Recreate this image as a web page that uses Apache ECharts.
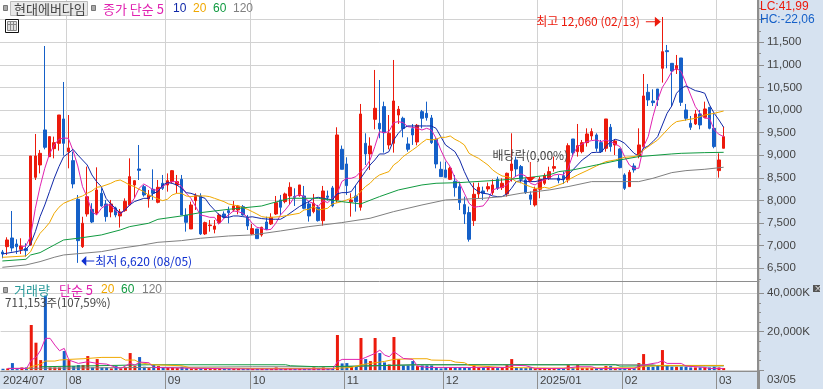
<!DOCTYPE html>
<html>
<head>
<meta charset="utf-8">
<style>
  html, body { margin: 0; padding: 0; background: #fff; }
  #chart { width: 823px; height: 389px; }
</style>
</head>
<body>
<div id="chart"></div>
<script src="https://cdn.jsdelivr.net/npm/echarts@6/dist/echarts.min.js"></script>
<script>
const monthStarts = [0, 14, 35, 53, 73, 94, 114, 132, 152];
const monthLabels = ['2024/07', '08', '09', '10', '11', '12', '2025/01', '02', '03'];
const slotCount = 161;

const priceLabels = [6500, 7000, 7500, 8000, 8500, 9000, 9500, 10000, 10500, 11000, 11500];
const priceLines = [6500, 7000, 7500, 8000, 8500, 9000, 9500, 10000, 10500, 11000, 11500, 12000];
const priceMinor = [6250, 6750, 7250, 7750, 8250, 8750, 9250, 9750, 10250, 10750, 11250, 11750, 12250];
const volumeLabels = [20000, 40000];
const volumeMinor = [5000, 10000, 15000, 25000, 30000, 35000];

// open, close, low, high
const ohlc = [
  [6861,6817,6721,6906],[6979,7127,6795,7186],[7171,6950,6869,7768],[7038,6979,6817,7142],[6920,6994,6817,7164],
  [6935,6891,6758,7053],[7016,8985,7000,8985],[8513,8985,8454,9472],[8786,9044,8600,9118],[9561,9177,9132,11418],
  [8970,9413,8970,9413],[9147,9280,8933,9413],[9265,9892,9103,9892],[9804,9265,8992,10622],[9081,9162,8712,9892],
  [8882,8366,8270,9081],[8026,7112,6620,8122],[6979,7496,6950,7640],[7702,8085,7643,8749],[7805,7525,7500,7940],
  [7717,8233,7680,8734],[8159,7879,7860,8270],[7923,7643,7532,8012],[7746,7923,7628,8012],[7835,7680,7628,7864],
  [7658,7746,7400,7812],[7776,7982,7750,8048],[7901,8528,7880,8933],[8343,8439,8048,8450],[8697,8668,8454,9228],
  [8307,8122,8085,8343],[8034,8122,7842,8233],[8248,8159,8012,8690],[7960,8292,7938,8454],[8380,8270,8233,8565],
  [8343,8439,8196,8600],[8417,8660,8380,8675],[8343,8417,8159,8565],[8469,7680,7680,8565],[7672,7518,7311,7827],
  [7370,7901,7370,7975],[7997,8107,7790,8159],[8100,7260,7238,8159],[7260,7510,7238,7532],[7444,7458,7311,7569],
  [7363,7436,7274,7569],[7510,7680,7473,7717],[7702,7628,7600,7760],[7776,7731,7495,7864],[7790,7879,7754,7990],
  [7790,7879,7695,7901],[7864,7680,7665,7901],[7620,7437,7348,7680],[7260,7378,7238,7480],[7370,7156,7156,7370],
  [7238,7407,7200,7420],[7525,7363,7348,7643],[7480,7628,7458,7717],[7702,7953,7680,8100],[8012,7850,7680,8123],
  [7975,8145,7938,8174],[8100,8292,7900,8403],[8086,8071,7879,8270],[8108,8344,8084,8344],[8100,7828,7806,8322],
  [7924,7658,7533,7975],[7754,7938,7717,8145],[7850,7555,7533,7902],[7555,8211,7444,8322],[8100,8071,7997,8219],
  [8278,7880,7850,8322],[8012,9450,7953,9620],[9133,8690,8690,9216],[8808,8329,8123,8956],[7968,8012,7643,8160],
  [8100,7975,7754,8344],[7850,9914,7776,10136],[9265,9030,8786,9487],[9030,9207,8676,9398],[9796,10040,9575,10888],
  [9708,9583,9376,10666],[10077,9501,9059,10187],[9229,9487,9133,9892],[9266,10202,9059,11109],[9892,10018,9693,10091],
  [9819,9590,9398,9855],[9251,9133,9081,9398],[9590,9450,9229,9693],[9295,9664,9221,9693],[9966,9819,9597,10003],
  [9929,9833,9767,10187],[9826,9280,9251,9892],[9354,8808,8712,9376],[8690,8528,8528,8860],[8676,8513,8513,8860],
  [8469,8713,8455,8750],[8425,8285,8086,8565],[8307,7953,7791,8418],[7909,7702,7481,8086],[7732,7142,7090,7865],
  [7555,8137,7437,8395],[8145,8292,8042,8395],[8211,8160,8012,8307],[8256,8307,8197,8395],[8174,8344,8123,8469],
  [8469,8270,8233,8528],[8285,8381,8233,8491],[8145,8602,8086,8617],[8661,8808,8418,9487],[8897,8698,8528,8971],
  [8750,8469,8381,8786],[8455,8174,8145,8491],[8123,8027,7901,8200],[7901,8248,7865,8307],[8248,8469,8049,8528],
  [8381,8550,8344,8602],[8491,8639,8455,8748],[8713,8750,8639,8971],[8491,8447,8381,8565],[8550,8470,8366,8639],
  [8455,9214,8396,9266],[9361,9059,8971,9361],[9081,9214,8971,9693],[9081,9280,9044,9339],[9280,9472,9192,9597],
  [9428,9524,9339,9597],[9450,9155,9081,9487],[9280,9081,9059,9339],[9155,9804,9081,9804],[9620,9192,9081,9693],
  [9229,9317,9007,9361],[9140,8727,8712,9155],[8565,8270,8233,8602],[8307,8624,8307,8676],[8764,8676,8617,8823],
  [8985,9229,8934,9597],[9192,10313,9155,10799],[10394,10224,10091,10578],[10202,10165,10091,10460],[10467,10224,10091,10467],
  [10925,11293,10608,12060],[11315,11293,10925,11441],[11035,10865,10091,11035],[10902,10984,10799,11220],[11153,10172,10091,11153],
  [10003,9819,9767,10136],[9708,9620,9561,9870],[9693,9914,9671,10003],[9914,9671,9575,10003],[9840,10025,9819,10187],
  [10062,9597,9575,10062],[9597,9192,9155,9929],[8661,8897,8506,9044],[9155,9413,9155,9634]
];

const volume = [
  700,870,3654,500,1392,1392,23490,14268,5220,38800,
  1392,1392,1392,9918,5220,2088,2610,2610,7308,1392,
  5742,1392,1392,870,2088,870,1392,8874,2088,6786,
  1740,1044,2610,2088,1392,1392,1392,1044,1740,1044,
  870,870,1044,870,870,1044,870,870,870,870,
  870,870,1044,870,870,1044,870,870,1392,870,
  870,1044,870,870,870,870,1392,870,1392,870,
  870,18270,3480,3654,1740,1740,16704,5742,4698,16704,
  8874,4002,2958,17226,5742,2436,2436,4698,2088,2436,
  2436,2436,1392,870,1392,1392,1392,1392,1392,1392,
  2436,1392,1392,2088,1392,1044,1392,2610,5742,1392,
  1044,1044,1392,870,1044,1044,870,870,870,870,
  2610,1044,2610,1044,1044,1044,1044,1044,2088,2088,
  1044,1044,1044,1044,1044,3654,8352,1740,1740,2088,
  10440,2088,1740,1740,1740,1740,1392,1392,1392,1392,
  1392,1740,1392,1044
];

// moving averages as [bar index, value]
const ma5 = [[4,6979],[5,6994],[6,7215],[7,7827],[8,8307],[9,8712],[10,9029],[11,9228],[12,9354],[13,9383],[14,9376],[15,9103],[16,8764],[17,8307],[18,8071],[19,7754],[20,7680],[21,7827],[22,7901],[23,7901],[24,7776],[25,7702],[26,7790],[27,7901],[28,8048],[29,8270],[30,8366],[31,8307],[32,8233],[33,8233],[34,8307],[35,8380],[36,8417],[37,8417],[38,8307],[39,8159],[40,8048],[41,7864],[42,7680],[43,7658],[44,7628],[45,7628],[46,7481],[47,7606],[48,7680],[49,7768],[50,7754],[51,7717],[52,7628],[53,7496],[54,7407],[55,7385],[56,7348],[57,7363],[58,7496],[59,7680],[60,7791],[61,7924],[62,8086],[63,8130],[64,8086],[65,7975],[66,7938],[67,7865],[68,7997],[69,7953],[70,8049],[71,8145],[72,8418],[73,8491],[74,8491],[75,8528],[76,8639],[77,8735],[78,8897],[79,9192],[80,9524],[81,9501],[82,9524],[83,9723],[84,9745],[85,9723],[86,9634],[87,9620],[88,9597],[89,9560],[90,9597],[91,9560],[92,9376],[93,9118],[94,8897],[95,8750],[96,8491],[97,8381],[98,8160],[99,7938],[100,7850],[101,7865],[102,7880],[103,8012],[104,8233],[105,8270],[106,8292],[107,8344],[108,8469],[109,8543],[110,8587],[111,8543],[112,8381],[113,8344],[114,8418],[115,8455],[116,8500],[117,8565],[118,8580],[119,8565],[120,8713],[121,9007],[122,9192],[123,9251],[124,9303],[125,9325],[126,9339],[127,9303],[128,9339],[129,9303],[130,9251],[131,9192],[132,8971],[133,8786],[134,8713],[135,8713],[136,9192],[137,9413],[138,9856],[139,10224],[140,10504],[141,10666],[142,10851],[143,10925],[144,10851],[145,10593],[146,10335],[147,10077],[148,9929],[149,9819],[150,9819],[151,9560],[152,9465],[153,9413]];
const ma10 = [[0,6817],[3,6869],[5,6920],[6,7038],[7,7311],[8,7643],[9,7901],[10,8196],[11,8491],[12,8749],[13,8970],[14,9044],[15,9132],[16,9007],[17,8896],[18,8786],[19,8565],[20,8417],[21,8307],[22,8048],[23,7923],[24,7827],[25,7717],[26,7790],[27,7901],[28,7975],[29,8012],[30,8048],[31,8048],[32,8159],[33,8196],[34,8343],[35,8395],[36,8380],[37,8343],[38,8270],[39,8174],[40,8159],[41,8122],[42,8085],[43,8048],[44,7901],[45,7790],[46,7680],[47,7628],[48,7628],[49,7658],[50,7658],[51,7643],[52,7628],[53,7640],[54,7620],[55,7600],[56,7590],[57,7585],[58,7585],[59,7585],[60,7643],[61,7717],[62,7791],[63,7865],[64,7924],[65,7975],[66,8049],[67,8071],[68,8049],[69,8034],[70,8012],[71,8145],[72,8174],[73,8174],[74,8196],[75,8344],[76,8491],[77,8639],[78,8786],[79,8897],[80,9030],[81,9030],[82,9081],[83,9339],[84,9487],[85,9597],[86,9649],[87,9649],[88,9649],[89,9649],[90,9649],[91,9649],[92,9597],[93,9413],[94,9229],[95,9155],[96,9081],[97,8897],[98,8639],[99,8418],[100,8270],[101,8196],[102,8160],[103,8145],[104,8101],[105,8086],[106,8086],[107,8145],[108,8270],[109,8418],[110,8440],[111,8418],[112,8418],[113,8418],[114,8440],[115,8491],[116,8477],[117,8477],[118,8477],[119,8455],[120,8565],[121,8676],[122,8786],[123,8897],[124,8971],[125,9059],[126,9066],[127,9066],[128,9192],[129,9303],[130,9354],[131,9325],[132,9266],[133,9155],[134,9044],[135,8985],[136,9155],[137,9207],[138,9303],[139,9413],[140,9671],[141,9929],[142,10091],[143,10372],[144,10482],[145,10534],[146,10482],[147,10431],[148,10408],[149,10372],[150,10114],[151,9929],[152,9782],[153,9620]];
const ma20 = [[0,6743],[5,6773],[6,6869],[7,7090],[8,7274],[9,7385],[10,7510],[11,7717],[12,7850],[13,7938],[15,8026],[17,8100],[18,8159],[19,8211],[20,8292],[21,8307],[22,8343],[23,8380],[24,8432],[25,8454],[26,8402],[27,8343],[28,8307],[29,8248],[30,8196],[31,8122],[32,8085],[33,8034],[34,7997],[35,8026],[36,8122],[37,8159],[38,8159],[39,8100],[40,8085],[41,8100],[43,8100],[44,8085],[45,8048],[46,8012],[47,7975],[48,7923],[49,7901],[50,7879],[51,7850],[52,7805],[53,7754],[54,7702],[55,7643],[56,7628],[57,7628],[59,7643],[61,7680],[63,7717],[64,7791],[65,7806],[66,7865],[67,7791],[68,7806],[69,7828],[70,7924],[72,7975],[73,8012],[75,8086],[76,8196],[77,8307],[78,8381],[79,8491],[80,8565],[81,8602],[82,8639],[83,8786],[84,8860],[85,8971],[86,9044],[87,9118],[88,9192],[89,9280],[90,9354],[91,9340],[92,9354],[93,9398],[94,9398],[95,9428],[96,9354],[97,9302],[98,9229],[99,9044],[100,8985],[101,8934],[102,8860],[103,8786],[104,8676],[105,8602],[106,8543],[107,8528],[108,8491],[109,8418],[110,8396],[111,8344],[112,8307],[113,8270],[114,8270],[115,8292],[116,8270],[119,8381],[120,8455],[122,8565],[124,8661],[126,8764],[128,8860],[130,8897],[132,8956],[134,8971],[135,9007],[136,9118],[138,9266],[139,9339],[141,9561],[142,9671],[143,9745],[145,9782],[147,9819],[149,9892],[151,9929],[153,9980]];
const ma60 = [[0,6662],[5,6699],[6,6795],[8,6847],[11,7016],[13,7127],[16,7164],[21,7238],[25,7348],[27,7422],[31,7496],[33,7584],[38,7658],[42,7731],[48,7805],[55,7879],[57,7938],[61,8049],[67,8049],[72,7975],[76,7924],[80,8086],[84,8233],[89,8344],[92,8381],[97,8396],[106,8454],[112,8513],[116,8565],[118,8639],[121,8676],[126,8786],[131,8897],[135,8971],[142,9030],[144,9044],[149,9059],[153,9066]];
const ma120 = [[0,6522],[5,6574],[8,6648],[11,6744],[13,6795],[21,6869],[25,6943],[29,7002],[33,7075],[38,7112],[42,7164],[48,7215],[53,7238],[59,7326],[65,7422],[72,7511],[78,7607],[83,7754],[89,7901],[94,8012],[102,8049],[106,8086],[110,8160],[116,8233],[120,8307],[125,8418],[132,8418],[135,8418],[138,8491],[142,8617],[145,8661],[149,8691],[153,8735]];

const volMa5 = [[1,870],[5,870],[6,5220],[7,6612],[8,10440],[9,16530],[10,16530],[11,13050],[12,10092],[13,11310],[14,5220],[16,3480],[18,4350],[20,3480],[22,3132],[24,1392],[25,870],[27,3480],[28,2610],[29,4176],[31,3828],[32,1392],[38,1044],[53,522],[70,522],[71,4350],[72,5568],[76,5568],[77,6612],[79,8700],[80,10440],[81,7830],[82,6960],[83,9570],[84,7830],[85,6090],[87,5568],[88,2088],[90,1392],[99,1392],[107,1392],[108,2610],[111,2262],[113,870],[119,870],[122,1740],[125,1740],[126,870],[134,870],[135,2088],[138,3480],[139,3828],[140,4872],[141,3480],[144,3480],[145,2088],[149,1392],[150,870],[153,870]];
const volMa20 = [[5,522],[6,1740],[8,3132],[9,4698],[11,4698],[12,5220],[14,5568],[17,5916],[21,6612],[25,6612],[26,5220],[28,5220],[29,3828],[32,2784],[38,2262],[40,1044],[53,870],[70,870],[74,1392],[76,2784],[78,3480],[81,4524],[83,5568],[87,5916],[90,5916],[91,5220],[95,5046],[96,4176],[98,3828],[99,2436],[106,1392],[116,1044],[135,1218],[136,2088],[138,2088],[139,2436],[149,2436],[153,2436]];
const volMa60 = [[8,1740],[31,2784],[60,2784],[61,2262],[67,1740],[75,2088],[88,2784],[106,2784],[125,2784],[130,2784],[131,2088],[138,2262],[149,2262],[153,2262]];
const volMa120 = [[1,870],[53,1740],[71,1740],[88,2784],[138,2784],[139,2262],[153,2262]];

const RED = '#ec1a0c';
const BLUE = '#1560c8';
const C5 = '#e022b0';
const C10 = '#1028a8';
const C20 = '#f0a800';
const C60 = '#109a40';
const C120 = '#808080';
const GRID = '#d2d2d2';
const AXIS = '#8e8e8e';
const PANEL = '#d6e2f0';
const NUM_FONT = '"Liberation Sans", sans-serif';
const KR_FONT = '"Noto Sans CJK KR", sans-serif';

const categories = [];
for (let i = 0; i < slotCount; i++) {
  const m = monthStarts.indexOf(i);
  categories.push(m >= 0 ? monthLabels[m] : String(i));
}
const isMonth = function (i) { return monthStarts.indexOf(i) >= 0; };
const isMonthLine = function (i) { return i > 0 && isMonth(i); };

function maLine(name, color, data, x, y) {
  return {
    name: name, type: 'line', data: data, xAxisIndex: x, yAxisIndex: y,
    symbol: 'none', silent: true, animation: false,
    lineStyle: { color: color, width: 1 }
  };
}

function rightAxis(grid, min, max, tickValues, labelValues, tickLen) {
  return {
    type: 'value', gridIndex: grid, position: 'right', offset: -1, min: min, max: max, scale: true,
    axisLine: { show: true, lineStyle: { color: AXIS, width: 2 } },
    axisTick: { show: true, length: tickLen, customValues: tickValues, lineStyle: { color: AXIS } },
    axisLabel: labelValues ? {
      customValues: labelValues, margin: 9, color: '#444', fontFamily: NUM_FONT, fontSize: 11.5,
      formatter: function (v) { return v.toLocaleString('en-US') + (grid === 1 ? 'K' : ''); }
    } : { show: false },
    splitLine: labelValues ? { show: true, lineStyle: { color: GRID, width: 1 } } : { show: false }
  };
}

function label(text, x, y, color, font, size) {
  return {
    type: 'text', x: x, y: y, z: 10,
    style: { text: text, fill: color, font: (size || 13) + 'px ' + (font || KR_FONT), textVerticalAlign: 'middle' }
  };
}

function box(x, y, w, h, fill, stroke, z) {
  return {
    type: 'rect', x: x, y: y, z: z === undefined ? 10 : z,
    shape: { width: w, height: h },
    style: { fill: fill, stroke: stroke || null, lineWidth: stroke ? 1 : 0 }
  };
}

const chart = echarts.init(document.getElementById('chart'), null, { renderer: 'canvas' });
chart.setOption({
  animation: false,
  backgroundColor: '#fff',
  grid: [
    { left: 0, width: 759, top: 0, height: 281 },
    { left: 0, width: 759, top: 281, height: 90 }
  ],
  xAxis: [
    {
      type: 'category', gridIndex: 0, data: categories, boundaryGap: true,
      axisLine: { show: true, lineStyle: { color: AXIS, width: 1 } },
      axisTick: { show: false },
      axisLabel: { show: false },
      splitLine: { show: true, interval: function (i) { return isMonthLine(i); }, lineStyle: { color: GRID, width: 1 } }
    },
    {
      type: 'category', gridIndex: 1, data: categories, boundaryGap: true,
      axisLine: { show: true, onZero: false, lineStyle: { color: AXIS, width: 1 } },
      axisTick: { show: true, length: 18, interval: function (i) { return isMonthLine(i); }, lineStyle: { color: AXIS } },
      axisLabel: {
        interval: function (i) { return isMonth(i); }, align: 'left', margin: 4,
        color: '#444', fontFamily: NUM_FONT, fontSize: 11.5
      },
      splitLine: { show: true, interval: function (i) { return isMonthLine(i); }, lineStyle: { color: GRID, width: 1 } }
    }
  ],
  yAxis: [
    rightAxis(0, 6219, 12436, priceLines, priceLabels, 6),
    rightAxis(1, -470, 46400, [0].concat(volumeLabels), volumeLabels, 6),
    rightAxis(0, 6219, 12436, priceMinor, null, 3),
    rightAxis(1, -470, 46400, volumeMinor, null, 3)
  ],
  graphic: [
    box(758, 0, 65, 389, PANEL, null, -1),
    box(0, 371, 758, 18, PANEL, null, -1),
    { type: 'line', z: 10, shape: { x1: 758, y1: 371, x2: 758, y2: 389 }, style: { stroke: AXIS, lineWidth: 2 } },

    box(3.5, 5.5, 4, 5, '#aaa', '#777'),
    box(10.5, 1.5, 77, 14, '#e8e8e8', '#bbb'),
    label('현대에버다임', 14, 9, '#444'),
    box(91.5, 5.5, 4, 5, '#aaa', '#777'),
    label('종가 단순 5', 103, 9, C5),
    label('10', 173, 9, C10, NUM_FONT, 12),
    label('20', 193, 9, C20, NUM_FONT, 12),
    label('60', 213, 9, C60, NUM_FONT, 12),
    label('120', 233, 9, C120, NUM_FONT, 12),

    box(5.5, 19.5, 13, 13, '#fff', '#111'),
    box(7.5, 21.5, 9, 9, '#ddd', '#888'),
    { type: 'line', z: 11, shape: { x1: 10.5, y1: 22, x2: 10.5, y2: 30 }, style: { stroke: '#888' } },
    { type: 'line', z: 11, shape: { x1: 13.5, y1: 22, x2: 13.5, y2: 30 }, style: { stroke: '#888' } },
    { type: 'line', z: 11, shape: { x1: 8, y1: 24.5, x2: 16, y2: 24.5 }, style: { stroke: '#888' } },

    label('LC:41,99', 760, 7, RED, NUM_FONT, 12),
    label('HC:-22,06', 760, 20, BLUE, NUM_FONT, 12),

    box(3.5, 287.5, 4, 5, '#aaa', '#777'),
    label('거래량', 14, 290, '#2a9a9a'),
    label('단순 5', 59, 290, C5),
    label('20', 101, 290, C20, NUM_FONT, 12),
    label('60', 121, 290, C60, NUM_FONT, 12),
    label('120', 142, 290, C120, NUM_FONT, 12),
    label('711,153주(107,59%)', 5, 303, '#444', KR_FONT, 11.5),

    box(813, 285, 7, 7, '#555'),
    label('×', 814, 288, '#fff', KR_FONT, 8),
    label('03/05', 767, 380, '#444', NUM_FONT, 11.5)
  ],
  series: [
    {
      type: 'candlestick', name: '종가', data: ohlc, xAxisIndex: 0, yAxisIndex: 0, barWidth: 3,
      itemStyle: { color: RED, color0: BLUE, borderColor: RED, borderColor0: BLUE, borderWidth: 1 },
      markPoint: {
        silent: true, animation: false,
        data: [
          {
            coord: [140, 11956], symbol: 'path://M0 4.5H9V0L15 5L9 10V5.5H0Z', symbolSize: [15, 10], symbolOffset: [-9, 0],
            itemStyle: { color: RED },
            label: { show: true, position: 'left', distance: 6, formatter: '최고 12,060 (02/13)', color: RED, fontFamily: KR_FONT, fontSize: 12 }
          },
          {
            coord: [16, 6662], symbol: 'path://M13 4.5H5V0L0 5L5 10V5.5H13Z', symbolSize: [13, 10], symbolOffset: [10, 0],
            itemStyle: { color: '#1030d0' },
            label: { show: true, position: 'right', distance: 1, formatter: '최저 6,620 (08/05)', color: '#1030d0', fontFamily: KR_FONT, fontSize: 12 }
          },
          {
            coord: [112, 8631], symbol: 'path://M4.5 0H5.5V15H10L5 20L0 15H4.5Z', symbolSize: [10, 20],
            itemStyle: { color: RED },
            label: { show: true, position: 'top', distance: 1, formatter: '배당락(0,00%)', color: '#444', fontFamily: KR_FONT, fontSize: 12 }
          }
        ]
      }
    },
    maLine('5', C5, ma5, 0, 0),
    maLine('10', C10, ma10, 0, 0),
    maLine('20', C20, ma20, 0, 0),
    maLine('60', C60, ma60, 0, 0),
    maLine('120', C120, ma120, 0, 0),
    {
      type: 'bar', name: '거래량', data: volume, xAxisIndex: 1, yAxisIndex: 1, barWidth: 3,
      itemStyle: { color: function (p) { return ohlc[p.dataIndex][1] >= ohlc[p.dataIndex][0] ? RED : BLUE; } }
    },
    maLine('v120', C120, volMa120, 1, 1),
    maLine('v60', C60, volMa60, 1, 1),
    maLine('v20', C20, volMa20, 1, 1),
    maLine('v5', C5, volMa5, 1, 1)
  ]
});
</script>
</body>
</html>
